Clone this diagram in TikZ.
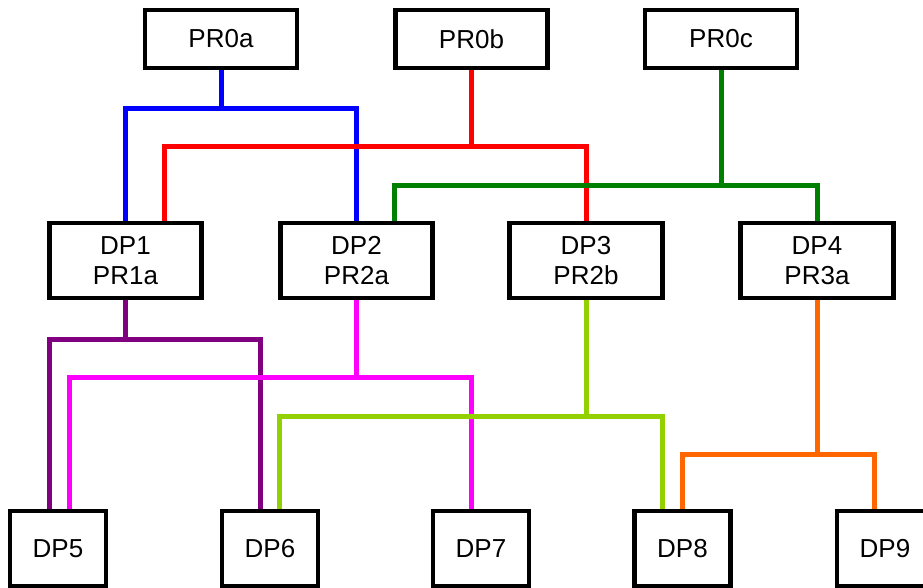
\documentclass[tikz,border=0pt]{standalone}
\usepackage{fontspec}
\setmainfont{Liberation Sans}
\usetikzlibrary{calc}
\definecolor{cblue}{RGB}{0,0,255}
\definecolor{cred}{RGB}{255,0,0}
\definecolor{cgreen}{RGB}{0,128,0}
\definecolor{cpurple}{RGB}{128,0,128}
\definecolor{cmagenta}{RGB}{255,0,255}
\definecolor{clime}{RGB}{146,208,0}
\definecolor{corange}{RGB}{255,102,0}
\begin{document}
\begin{tikzpicture}[x=0.75pt,y=-0.75pt,
  box/.style={draw=black,line width=3.4pt,fill=white,inner sep=0pt,align=center,
    font=\fontsize{19.5pt}{22.5pt}\selectfont},
  topbox/.style={box,minimum width=152*0.75pt,minimum height=58*0.75pt},
  midbox/.style={box,minimum width=152.5*0.75pt,minimum height=75*0.75pt},
  lowbox/.style={box,minimum width=96*0.75pt,minimum height=75*0.75pt},
  link/.style={line width=3.75pt,line join=miter}]

\useasboundingbox (0,0) rectangle (923,588);

% top row
\node[topbox] (PR0a) at (221,39)   {PR0a};
\node[topbox] (PR0b) at (471.5,39) {PR0b};
\node[topbox] (PR0c) at (721,39)   {PR0c};

% middle row
\node[midbox] (DP1) at (125.5,260.5) {DP1\\PR1a};
\node[midbox] (DP2) at (356.5,260.5) {DP2\\PR2a};
\node[midbox] (DP3) at (586,260.5)   {DP3\\PR2b};
\node[midbox] (DP4) at (817,260.5)   {DP4\\PR3a};

% bottom row
\node[lowbox] (DP5) at (58,548.5)  {DP5};
\node[lowbox] (DP6) at (270,548.5) {DP6};
\node[lowbox] (DP7) at (481,548.5) {DP7};
\node[lowbox] (DP8) at (682.5,548.5) {DP8};
\node[lowbox] (DP9) at (885,548.5) {DP9};

% bus levels
\coordinate (busA) at ($(PR0a.south)+(0,38)$);
\coordinate (busB) at ($(PR0b.south)+(0,76)$);
\coordinate (busC) at ($(PR0c.south)+(0,115)$);
\coordinate (bus1) at ($(DP1.south)+(0,39)$);
\coordinate (bus2) at ($(DP2.south)+(0,77)$);
\coordinate (bus3) at ($(DP3.south)+(0,116)$);
\coordinate (bus4) at ($(DP4.south)+(0,154)$);

% top-level connectors
\draw[link,cblue] (PR0a.south) -- (busA)
  (DP1.north) |- (busA) -| (DP2.north);
\draw[link,cred] (PR0b.south) -- (busB)
  ($(DP1.north)+(38.5,0)$) |- (busB) -| (DP3.north);
\draw[link,cgreen] (PR0c.south) -- (busC)
  ($(DP2.north)+(37.5,0)$) |- (busC) -| (DP4.north);

% lower-level connectors
\draw[link,cpurple] (DP1.south) -- (bus1)
  ($(DP5.north)+(-9,0)$) |- (bus1) -| ($(DP6.north)+(-10,0)$);
\draw[link,cmagenta] (DP2.south) -- (bus2)
  ($(DP5.north)+(11,0)$) |- (bus2) -| ($(DP7.north)+(-10,0)$);
\draw[link,clime] (DP3.south) -- (bus3)
  ($(DP6.north)+(9,0)$) |- (bus3) -| ($(DP8.north)+(-20.5,0)$);
\draw[link,corange] (DP4.south) -- (bus4)
  (DP8.north) |- (bus4) -| ($(DP9.north)+(-11,0)$);
\end{tikzpicture}
\end{document}
